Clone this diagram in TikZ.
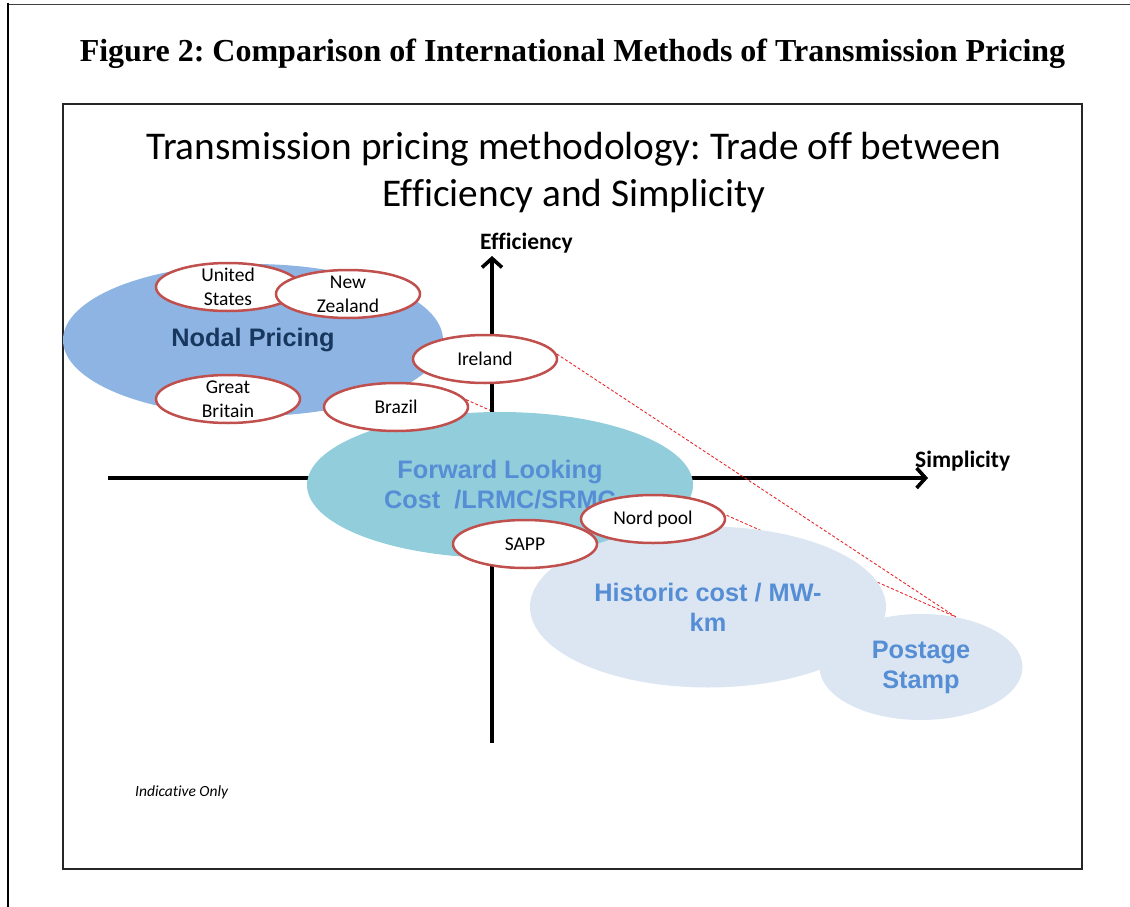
\documentclass[tikz,border=0pt]{standalone}
\usepackage{fontspec}
\setmainfont{Carlito}[Ligatures=NoCommon]
\newfontfamily\arialf{Liberation Sans}
\newfontfamily\timesf{Liberation Serif}
\usetikzlibrary{shapes.geometric,arrows.meta,backgrounds}
\definecolor{nodalfill}{HTML}{8EB4E3}
\definecolor{nodaltext}{HTML}{17375E}
\definecolor{flcfill}{HTML}{92CDDC}
\definecolor{regtext}{HTML}{558ED5}
\definecolor{histfill}{HTML}{DCE6F2}
\definecolor{redline}{HTML}{C0504D}
\definecolor{dashred}{HTML}{E8292B}
\frenchspacing
\begin{document}
\begin{tikzpicture}[x=1pt,y=-1pt,
  region/.style={ellipse, inner sep=0pt, draw=none, align=center,
    font=\arialf\bfseries\fontsize{25.3}{30}\selectfont},
  country/.style={ellipse, inner sep=0pt, fill=white, draw=redline, line width=2.5pt,
    minimum width=144pt, minimum height=48pt,
    label={[align=center,font=\fontsize{19.5}{24}\selectfont]center:#1}},
  axis/.style={line width=3.6pt, -{Straight Barb[length=9pt,width=20pt]}},
  axislabel/.style={font=\bfseries\fontsize{23.5}{28}\selectfont, inner sep=0pt},
  dashedred/.style={draw=dashred, line width=0.9pt, dash pattern=on 3pt off 2pt}
]
\useasboundingbox (0,0) rectangle (1130,907);
% page borders
\draw[line width=1.6pt, black!75] (7,4.5) -- (1130,4.5);
\draw[line width=2.2pt] (8,3.5) -- (8,907);
% caption
\node[font=\timesf\bfseries\fontsize{32}{38}\selectfont, anchor=base, inner sep=0pt]
  (caption) at (572.5,62) {Figure 2: Comparison of International Methods of Transmission Pricing};
% inner frame
\draw[line width=1.3pt, black!85] (63,104) rectangle (1082,869);
% title
\node[font=\fontsize{39.3}{46}\selectfont, anchor=base, inner sep=0pt]
  (title1) at (574,159) {Transmission pricing methodology: Trade off between};
\node[font=\fontsize{39.3}{46}\selectfont, anchor=base, inner sep=0pt]
  (title2) at (574,206) {Efficiency and Simplicity};
% axes
\coordinate (ybot) at (492,743);
\coordinate (ytop) at (492,256);
\coordinate (xleft) at (108,478);
\coordinate (xright) at (928,478);
\draw[axis] (ybot) -- (ytop);
\draw[axis] (xleft) -- (xright);
\node[axislabel, anchor=base west] (efflabel) at (480,249) {Efficiency};
\node[axislabel, anchor=base west] (simlabel) at (915,467) {Simplicity};
% regions
\node[region, fill=nodalfill, text=nodaltext, minimum width=380pt, minimum height=152pt]
  (nodal) at (253,340) {Nodal Pricing};
\node[country={United\\States}] (us) at (228,287) {};
\node[country={New\\Zealand}] (nz) at (348,294) {};
\node[country={Great\\Britain}] (gb) at (228,399) {};
\node[region, fill=flcfill, text=regtext, minimum width=386pt, minimum height=146pt]
  (flc) at (500,485) {Forward Looking\\Cost\ \ /LRMC/SRMC};
\node[region, fill=histfill, text=regtext, minimum width=356pt, minimum height=161pt]
  (hist) at (708,607) {Historic cost / MW-\\km};
\node[region, fill=histfill, text=regtext, minimum width=203pt, minimum height=106pt]
  (postage) at (921,667) {Postage\\Stamp};
\node[country={Ireland}] (ireland) at (485,359) {};
\node[country={Brazil}] (brazil) at (396,407) {};
\node[country={SAPP}] (sapp) at (525,544) {};
\node[country={Nord pool}] (nord) at (653,519) {};
% dashed links
\draw[dashedred] (ireland.4) -- (postage.55);
\begin{pgfonlayer}{background}
\draw[dashedred] (brazil.6) -- (postage.55);
\end{pgfonlayer}
% note
\node[font=\itshape\fontsize{15.5}{18}\selectfont, anchor=base west, inner sep=0pt]
  (note) at (135,796) {Indicative Only};
\end{tikzpicture}
\end{document}
